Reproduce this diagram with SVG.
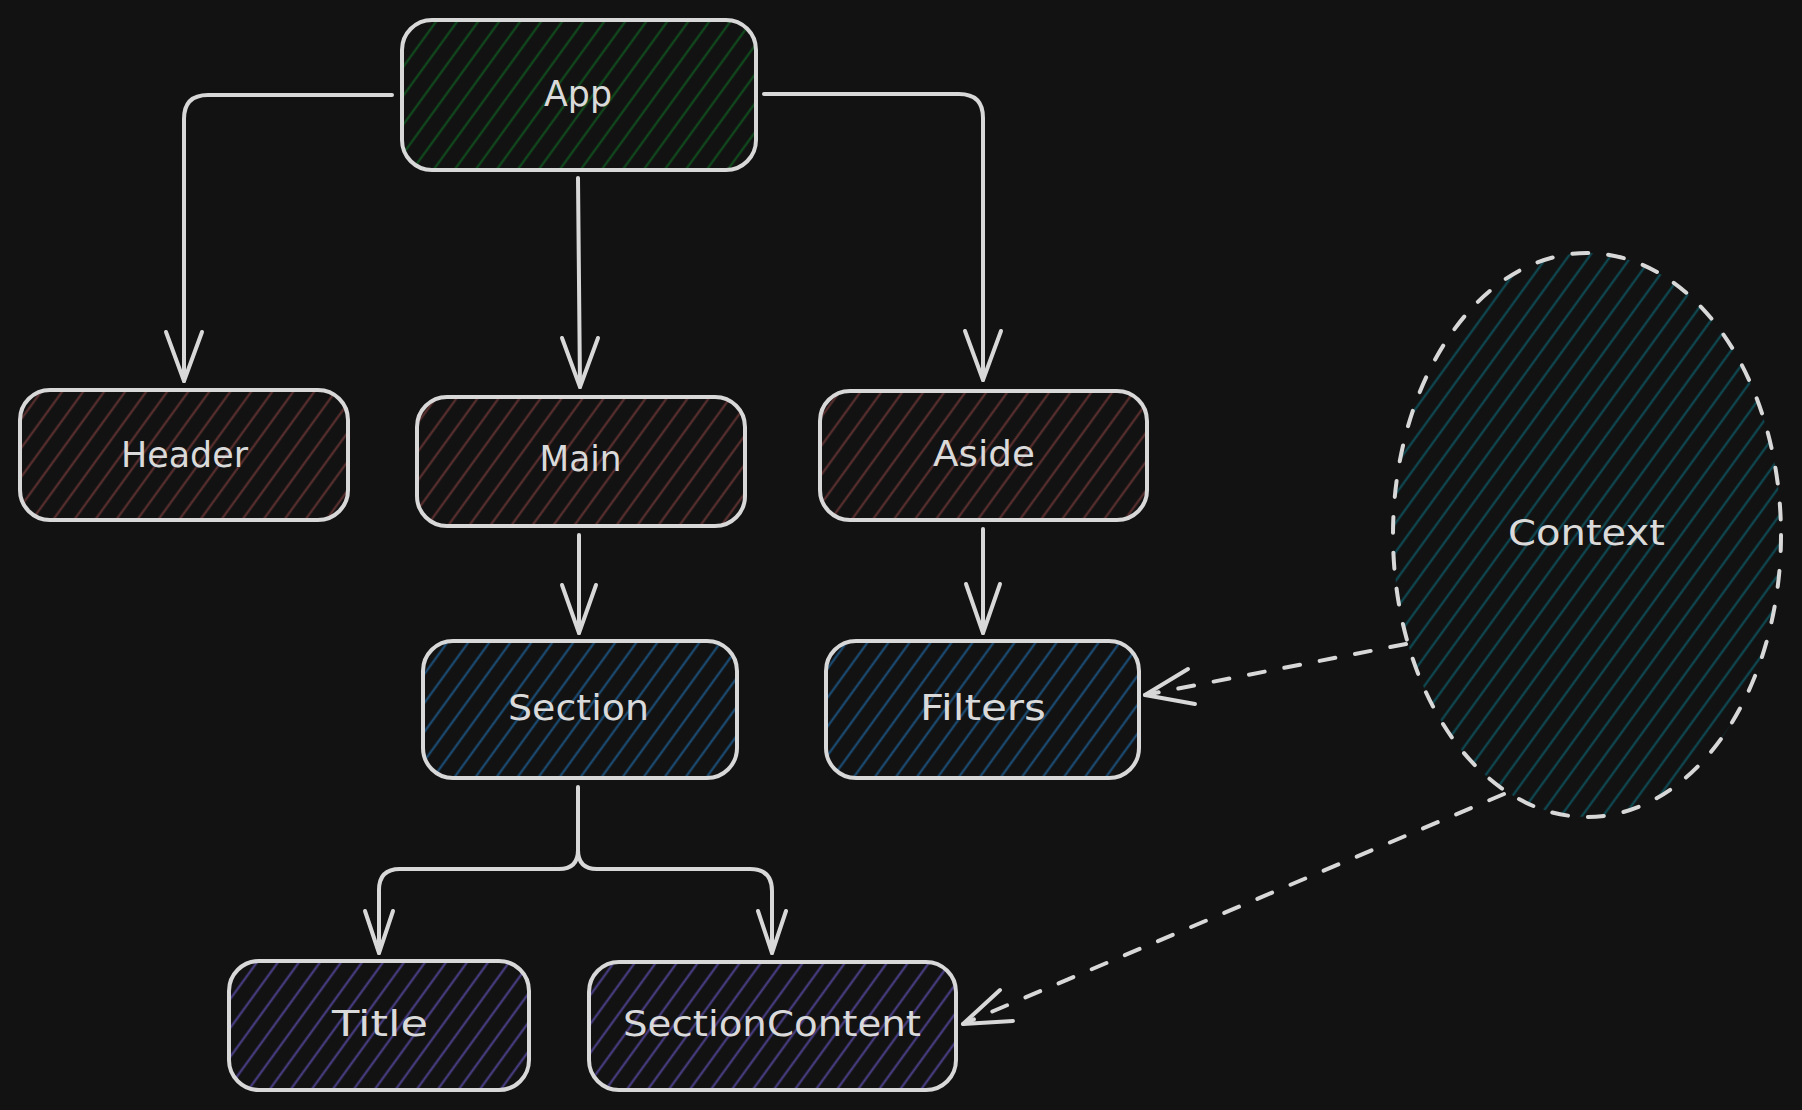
<svg xmlns="http://www.w3.org/2000/svg" width="1802" height="1110" viewBox="0 0 1802 1110">
  <style>
    .bg { fill: #121212; }
    .box { stroke: #d8d8d8; stroke-width: 4; fill: none; stroke-linejoin: round; }
    .edge { stroke: #d8d8d8; stroke-width: 4; fill: none; stroke-linecap: round; stroke-linejoin: round; }
    .dash { stroke-dasharray: 16 20; }
    .lbl { font-family: "DejaVu Sans", "Liberation Sans", sans-serif; font-size: 36px; fill: #dadada; text-anchor: middle; }
  </style>
  <defs>
    <pattern id="hG" patternUnits="userSpaceOnUse" width="17" height="17" patternTransform="rotate(36)">
      <line x1="8.5" y1="-2" x2="8.5" y2="19" stroke="#10501e" stroke-width="2"/>
    </pattern>
    <pattern id="hR" patternUnits="userSpaceOnUse" width="17" height="17" patternTransform="rotate(36)">
      <line x1="8.5" y1="-2" x2="8.5" y2="19" stroke="#613232" stroke-width="2"/>
    </pattern>
    <pattern id="hB" patternUnits="userSpaceOnUse" width="17" height="17" patternTransform="rotate(36)">
      <line x1="8.5" y1="-2" x2="8.5" y2="19" stroke="#1c527e" stroke-width="2"/>
    </pattern>
    <pattern id="hP" patternUnits="userSpaceOnUse" width="17" height="17" patternTransform="rotate(36)">
      <line x1="8.5" y1="-2" x2="8.5" y2="19" stroke="#4e418e" stroke-width="2"/>
    </pattern>
    <pattern id="hT" patternUnits="userSpaceOnUse" width="17" height="17" patternTransform="rotate(36)">
      <line x1="8.5" y1="-2" x2="8.5" y2="19" stroke="#0e4f5a" stroke-width="2"/>
    </pattern>
  </defs>

  <rect class="bg" x="0" y="0" width="1802" height="1110"/>

  <g id="connectors">
    <!-- App -> Header -->
    <path class="edge" d="M 392 95 L 208 95 Q 184 95 184 119 L 184 381"/>
    <path class="edge" d="M 166 332 L 184 381 L 202 332"/>
    <!-- App -> Main -->
    <path class="edge" d="M 578 178 L 580 387"/>
    <path class="edge" d="M 562 338 L 580 387 L 598 338"/>
    <!-- App -> Aside -->
    <path class="edge" d="M 764 94 L 959 94 Q 983 94 983 118 L 983 380"/>
    <path class="edge" d="M 965 331 L 983 380 L 1001 331"/>
    <!-- Main -> Section -->
    <path class="edge" d="M 579 535 L 579 633"/>
    <path class="edge" d="M 562 585 L 579 633 L 596 585"/>
    <!-- Aside -> Filters -->
    <path class="edge" d="M 983 529 L 983 633"/>
    <path class="edge" d="M 966 584 L 983 633 L 1000 584"/>
    <!-- Section -> Title -->
    <path class="edge" d="M 578 787 L 578 850 Q 578 869 559 869 L 400 869 Q 379 869 379 890 L 379 953"/>
    <path class="edge" d="M 365 911 L 379 953 L 393 911"/>
    <!-- Section -> SectionContent -->
    <path class="edge" d="M 578 850 Q 578 869 597 869 L 750 869 Q 772 869 772 891 L 772 953"/>
    <path class="edge" d="M 758 911 L 772 953 L 786 911"/>
    <!-- Context -> Filters (dashed) -->
    <path class="edge dash" d="M 1406 644 L 1145 695"/>
    <path class="edge" d="M 1188 669 L 1145 695 L 1195 704"/>
    <!-- Context -> SectionContent (dashed) -->
    <path class="edge dash" d="M 1504 794 L 963 1024"/>
    <path class="edge" d="M 1000 990 L 963 1024 L 1013 1021"/>
  </g>

  <g id="node-app">
    <rect x="402" y="20" width="354" height="150" rx="30" fill="url(#hG)"/>
    <rect class="box" x="402" y="20" width="354" height="150" rx="30"/>
    <text class="lbl" x="578" y="106" textLength="68" lengthAdjust="spacingAndGlyphs">App</text>
  </g>

  <g id="node-header">
    <rect x="20" y="390" width="328" height="130" rx="30" fill="url(#hR)"/>
    <rect class="box" x="20" y="390" width="328" height="130" rx="30"/>
    <text class="lbl" x="184.5" y="467" textLength="127" lengthAdjust="spacingAndGlyphs">Header</text>
  </g>

  <g id="node-main">
    <rect x="417" y="397" width="328" height="129" rx="30" fill="url(#hR)"/>
    <rect class="box" x="417" y="397" width="328" height="129" rx="30"/>
    <text class="lbl" x="580.5" y="471" textLength="82" lengthAdjust="spacingAndGlyphs">Main</text>
  </g>

  <g id="node-aside">
    <rect x="820" y="391" width="327" height="129" rx="30" fill="url(#hR)"/>
    <rect class="box" x="820" y="391" width="327" height="129" rx="30"/>
    <text class="lbl" x="984" y="466" textLength="102" lengthAdjust="spacingAndGlyphs">Aside</text>
  </g>

  <g id="node-section">
    <rect x="423" y="641" width="314" height="137" rx="30" fill="url(#hB)"/>
    <rect class="box" x="423" y="641" width="314" height="137" rx="30"/>
    <text class="lbl" x="578.5" y="720" textLength="141" lengthAdjust="spacingAndGlyphs">Section</text>
  </g>

  <g id="node-filters">
    <rect x="826" y="641" width="313" height="137" rx="30" fill="url(#hB)"/>
    <rect class="box" x="826" y="641" width="313" height="137" rx="30"/>
    <text class="lbl" x="983" y="720" textLength="126" lengthAdjust="spacingAndGlyphs">Filters</text>
  </g>

  <g id="node-title">
    <rect x="229" y="961" width="300" height="129" rx="30" fill="url(#hP)"/>
    <rect class="box" x="229" y="961" width="300" height="129" rx="30"/>
    <text class="lbl" x="380" y="1036" textLength="96" lengthAdjust="spacingAndGlyphs">Title</text>
  </g>

  <g id="node-sectioncontent">
    <rect x="589" y="962" width="367" height="128" rx="30" fill="url(#hP)"/>
    <rect class="box" x="589" y="962" width="367" height="128" rx="30"/>
    <text class="lbl" x="772" y="1036" textLength="298" lengthAdjust="spacingAndGlyphs">SectionContent</text>
  </g>

  <g id="node-context">
    <ellipse cx="1587" cy="535" rx="194" ry="282" fill="url(#hT)"/>
    <ellipse class="box dash" cx="1587" cy="535" rx="194" ry="282" stroke-linecap="round"/>
    <text class="lbl" x="1586.5" y="545" textLength="157" lengthAdjust="spacingAndGlyphs">Context</text>
  </g>
</svg>
